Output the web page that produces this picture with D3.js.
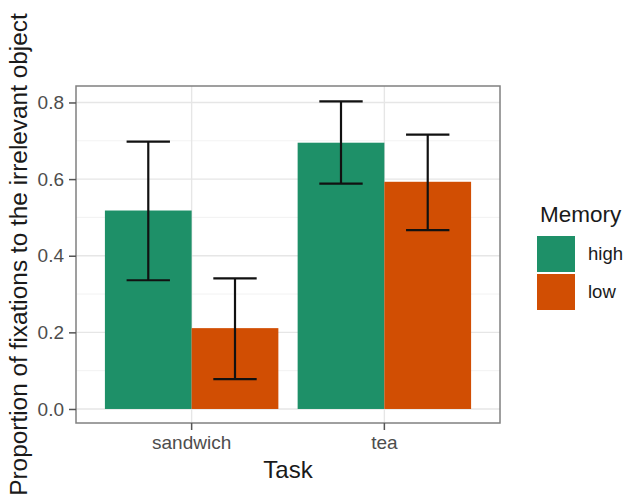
<!DOCTYPE html>
<html>
<head>
<meta charset="utf-8">
<script src="https://cdn.jsdelivr.net/npm/d3@7"></script>
<style>
  html, body { margin: 0; padding: 0; background: #fff; }
  svg { display: block; font-family: "Liberation Sans", Arial, sans-serif; }
</style>
</head>
<body>
<svg id="chart" width="627" height="501"></svg>
<script>
// Task categories and memory groups
const tasks = ["sandwich", "tea"];
const memory = ["high", "low"];

// Mean proportion of fixations, one value per task, per memory group
const highMean = [0.518, 0.695];
const lowMean  = [0.211, 0.593];

// Error bar limits (lower, upper)
const highLower = [0.336, 0.588];
const highUpper = [0.698, 0.803];
const lowLower  = [0.078, 0.467];
const lowUpper  = [0.341, 0.716];

const yTicks = [0.0, 0.2, 0.4, 0.6, 0.8];
const yMinor = [0.1, 0.3, 0.5, 0.7];

const colors = { high: "#1e9068", low: "#d14e03" };

const rows = [];
tasks.forEach((t, i) => {
  rows.push({ task: t, mem: "high", mean: highMean[i], lo: highLower[i], hi: highUpper[i] });
  rows.push({ task: t, mem: "low",  mean: lowMean[i],  lo: lowLower[i],  hi: lowUpper[i] });
});

const panel = { left: 76, right: 500, top: 86, bottom: 423 };
const svg = d3.select("#chart");

const x = d3.scaleBand().domain(tasks)
  .range([panel.left, panel.right]).paddingInner(0.1).paddingOuter(0.15);
const xInner = d3.scaleBand().domain(memory).range([0, x.bandwidth()]);
const y = d3.scaleLinear().domain([-0.0366, 0.843]).range([panel.bottom, panel.top]);

const g = svg.append("g");

// panel grid
g.selectAll(".minor").data(yMinor).join("line")
  .attr("x1", panel.left).attr("x2", panel.right)
  .attr("y1", d => y(d)).attr("y2", d => y(d))
  .attr("stroke", "#efefef").attr("stroke-width", 0.8);
g.selectAll(".major").data(yTicks).join("line")
  .attr("x1", panel.left).attr("x2", panel.right)
  .attr("y1", d => y(d)).attr("y2", d => y(d))
  .attr("stroke", "#e6e6e6").attr("stroke-width", 1.4);
g.selectAll(".vmajor").data(tasks).join("line")
  .attr("x1", d => x(d) + x.bandwidth() / 2).attr("x2", d => x(d) + x.bandwidth() / 2)
  .attr("y1", panel.top).attr("y2", panel.bottom)
  .attr("stroke", "#e6e6e6").attr("stroke-width", 1.4);

// bars
g.selectAll(".bar").data(rows).join("rect")
  .attr("x", d => x(d.task) + xInner(d.mem))
  .attr("width", xInner.bandwidth())
  .attr("y", d => y(d.mean))
  .attr("height", d => y(0) - y(d.mean))
  .attr("fill", d => colors[d.mem]);

// error bars
const capW = xInner.bandwidth() * 0.5;
const eb = g.selectAll(".eb").data(rows).join("g")
  .attr("transform", d => `translate(${x(d.task) + xInner(d.mem) + xInner.bandwidth() / 2},0)`)
  .attr("stroke", "#111").attr("stroke-width", 2.2);
eb.append("line").attr("x1", 0).attr("x2", 0).attr("y1", d => y(d.lo)).attr("y2", d => y(d.hi));
eb.append("line").attr("x1", -capW / 2).attr("x2", capW / 2).attr("y1", d => y(d.lo)).attr("y2", d => y(d.lo));
eb.append("line").attr("x1", -capW / 2).attr("x2", capW / 2).attr("y1", d => y(d.hi)).attr("y2", d => y(d.hi));

// panel border
g.append("rect")
  .attr("x", panel.left).attr("y", panel.top)
  .attr("width", panel.right - panel.left).attr("height", panel.bottom - panel.top)
  .attr("fill", "none").attr("stroke", "#808080").attr("stroke-width", 1.5);

// axes
const yAxis = d3.axisLeft(y).tickValues(yTicks).tickFormat(d3.format(".1f")).tickSize(7).tickPadding(5);
const ya = svg.append("g").attr("transform", `translate(${panel.left},0)`).call(yAxis);
const xAxis = d3.axisBottom(x).tickSize(7).tickPadding(6);
const xa = svg.append("g").attr("transform", `translate(0,${panel.bottom})`).call(xAxis);
[ya, xa].forEach(a => {
  a.select(".domain").remove();
  a.selectAll(".tick line").attr("stroke", "#555").attr("stroke-width", 1.5);
  a.selectAll(".tick text").attr("fill", "#4d4d4d").style("font-size", "19px")
    .style("font-family", "'Liberation Sans', Arial, sans-serif");
});

// axis titles
svg.append("text").attr("x", (panel.left + panel.right) / 2).attr("y", 478)
  .attr("text-anchor", "middle").style("font-size", "24px").attr("fill", "#1a1a1a").text("Task");
svg.append("text")
  .attr("transform", `translate(27,${(panel.top + panel.bottom) / 2}) rotate(-90)`)
  .attr("text-anchor", "middle").style("font-size", "24.4px").attr("fill", "#1a1a1a")
  .text("Proportion of fixations to the irrelevant object");

// legend
const leg = svg.append("g").attr("transform", "translate(537,0)");
leg.append("text").attr("x", 3).attr("y", 222).style("font-size", "22.5px").attr("fill", "#1a1a1a").text("Memory");
const keyH = 36, keyW = 38, keyTop = 236;
const items = leg.selectAll(".item").data(memory).join("g")
  .attr("transform", (d, i) => `translate(0,${keyTop + i * (keyH + 2)})`);
items.append("rect").attr("width", keyW).attr("height", keyH).attr("fill", d => colors[d]);
items.append("text").attr("x", keyW + 13).attr("y", keyH / 2).attr("dy", "0.35em")
  .style("font-size", "18.5px").attr("fill", "#1a1a1a").text(d => d);
</script>
</body>
</html>
